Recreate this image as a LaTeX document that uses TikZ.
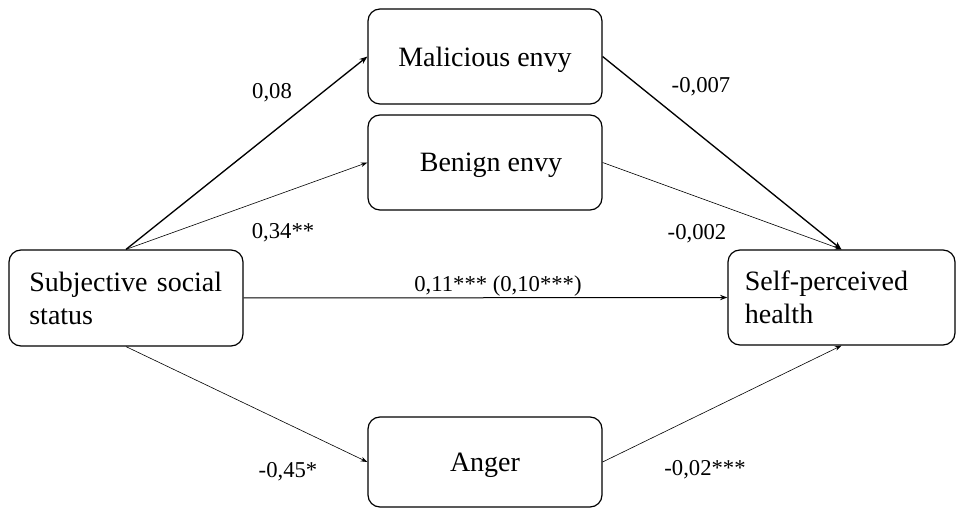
\documentclass[tikz,border=0pt]{standalone}
\usepackage{fontspec}
\setmainfont{Liberation Serif}
\usetikzlibrary{arrows.meta}
\begin{document}
\begin{tikzpicture}[x=0.75pt,y=-0.75pt,
  box/.style={draw, line width=0.9pt, rounded corners=9pt, inner ysep=0pt,
    font=\fontsize{21}{24.75}\selectfont},
  midbox/.style={box, text depth=0pt, minimum width=175.5pt},
  sidebox/.style={box, text width=145pt, align=left, inner xsep=15.25pt},
  lab/.style={font=\fontsize{17}{20}\selectfont, anchor=base, inner sep=0pt},
  strongarr/.style={line width=1pt, -{Stealth[length=6pt,width=4.5pt]}},
  weakarr/.style={line width=0.45pt, -{Stealth[length=5pt,width=3.5pt]}},
  midarr/.style={line width=0.75pt, -{Stealth[length=5.5pt,width=4pt]}}
]
\useasboundingbox (0,0) rectangle (957,509);

\node[sidebox, minimum width=175.5pt, minimum height=72pt] (sss) at (126,298) {Subjective social\\status};
\node[midbox, minimum height=71.25pt] (mal) at (485,56.5) {Malicious envy};
\node[midbox, minimum height=71.25pt] (ben) at (485,162.5) {\hspace*{9pt}Benign envy};
\node[midbox, minimum height=67.5pt] (ang) at (485,462) {Anger};
\node[box, text width=145pt, align=left, inner xsep=12.6pt, minimum width=170.25pt, minimum height=71.25pt] (self) at (841.5,297.5) {Self-perceived\\health};

\draw[strongarr] (sss.north) -- (mal.west);
\draw[weakarr] (sss.north) -- (ben.west);
\draw[midarr] (sss.east) -- (self.west);
\draw[weakarr] (sss.south) -- (ang.west);
\draw[strongarr] (mal.east) -- (self.north);
\draw[weakarr] (ben.east) -- (self.north);
\draw[weakarr] (ang.east) -- (self.south);

\node[lab] (l1) at (272,99) {0,08};
\node[lab] (l2) at (283,239) {0,34**};
\node[lab] (l3) at (701,93) {-0,007};
\node[lab] (l4) at (697,240) {-0,002};
\node[lab] (l5) at (498,292) {0,11*** (0,10***)};
\node[lab] (l6) at (288,478) {-0,45*};
\node[lab] (l7) at (705,475) {-0,02***};
\end{tikzpicture}
\end{document}
